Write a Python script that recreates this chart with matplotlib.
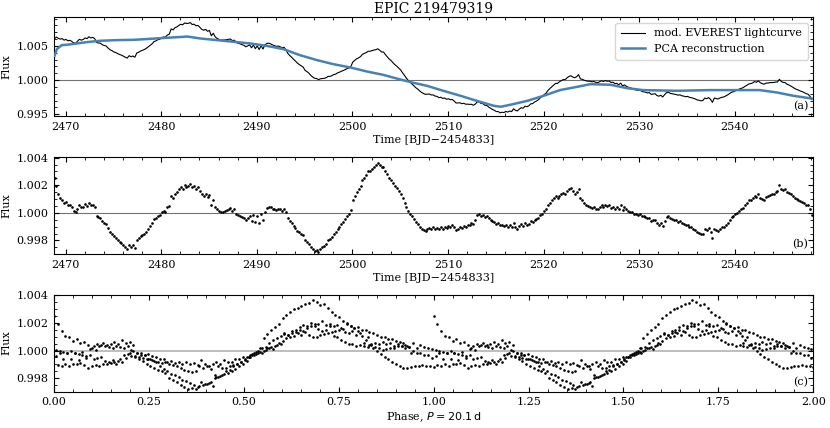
import numpy as np
import matplotlib
matplotlib.use("Agg")
import matplotlib.pyplot as plt
from matplotlib.ticker import AutoMinorLocator, MultipleLocator, FormatStrFormatter

# ---------------- data ----------------
title = "EPIC 219479319"
t_start = 2468.85      # BJD-2454833 of first sample
cadence = 0.2          # days between samples
period = 20.1          # days

# detrended flux (panel b), offset from 1 in units of 1e-5, one row per day
detrended = [
    250, 195, 140, 105, 95,      # 2468.85
    70, 80, 55, 60, 40,          # 2469.85
    15, 5, 30, 55, 40,           # 2470.85
    45, 65, 50, 75, 55,          # 2471.85
    60, 40, -20, -30, -35,       # 2472.85
    -60, -70, -80, -110, -135,   # 2473.85
    -150, -170, -180, -195, -210,
    -220, -235, -250, -265, -230,
    -245, -235, -255, -195, -185,
    -170, -160, -150, -135, -115,
    -95, -75, -45, -35, -20,     # 2478.85
    -15, 5, 15, 10, 40,
    50, 125, 110, 140, 150,
    170, 185, 175, 200, 190,
    195, 210, 185, 195, 175,
    185, 160, 135, 125, 140,     # 2483.85
    115, 130, 55, 95, 45,
    25, 15, 5, 10, 15,
    20, 30, 35, 15, 25,
    -5, -15, -20, -30, -35,
    -55, -40, -20, -60, -15,     # 2488.85
    -65, -20, -70, -10, -55,
    10, 35, 45, 40, 30,
    25, 20, 30, 25, 15,
    30, 5, -40, -60, -75,
    -95, -110, -130, -140, -150, # 2493.85
    -160, -200, -210, -225, -250,
    -265, -275, -270, -280, -260,
    -250, -240, -225, -200, -190,
    -175, -150, -140, -115, -100,
    -80, -65, -45, -25, -10,     # 2498.85
    20, 90, 120, 150, 170,
    195, 235, 255, 275, 300,
    305, 320, 335, 345, 365,
    350, 330, 335, 305, 280,
    255, 240, 215, 195, 180,     # 2503.85
    160, 140, 105, 75, 40,
    15, -5, -25, -45, -65,
    -80, -100, -115, -125, -130,
    -120, -110, -115, -105, -115,
    -110, -120, -105, -115, -100, # 2508.85
    -110, -95, -100, -90, -105,
    -125, -115, -105, -110, -95,
    -100, -90, -85, -75, -80,
    -55, -15, -5, -20, -15,
    -30, -25, -40, -50, -60,     # 2513.85
    -65, -80, -75, -90, -85,
    -95, -85, -100, -90, -105,
    -70, -100, -115, -95, -80,
    -95, -70, -85, -80, -60,
    -65, -50, -45, -35, -15,     # 2518.85
    -5, 15, 25, 55, 75,
    90, 105, 120, 110, 125,
    135, 145, 140, 160, 175,
    180, 155, 140, 150, 175,
    105, 95, 75, 60, 50,         # 2523.85
    45, 35, 40, 30, 25,
    40, 55, 45, 60, 50,
    55, 35, 45, 30, 40,
    25, 55, 20, 40, 25,
    15, 10, 5, -5, -10,          # 2528.85
    -15, -5, -20, -25, -30,
    -40, -35, -60, -55, -50,
    -75, -85, -70, -95, -60,
    -30, -25, -40, -45, -50,
    -55, -65, -60, -75, -80,     # 2533.85
    -90, -85, -100, -105, -115,
    -125, -140, -145, -155, -150,
    -115, -125, -110, -135, -180,
    -115, -125, -130, -115, -105,
    -100, -85, -70, -50, -30,    # 2538.85
    -25, -10, 0, 15, 25,
    35, 55, 70, 90, 95,
    105, 125, 115, 135, 110,
    100, 95, 115, 120, 130,
    135, 140, 150, 155, 200,     # 2543.85
    175, 165, 170, 150, 145,
    135, 125, 110, 100, 95,
    85, 80, 70, 60, 55,
    30, -15,                     # 2547.85
]

# PCA reconstruction (panel a): knot times and offset from 1 in units of 1e-5
pca_time = [2468.85, 2469.1, 2469.6, 2470.1, 2471.2, 2472.2, 2473.6, 2475.4,
            2477.1, 2478.9, 2480.6, 2482.3, 2482.7, 2484.1, 2485.8, 2487.6,
            2489.3, 2491.0, 2492.8, 2494.5, 2496.3, 2498.0, 2499.8, 2501.5,
            2503.2, 2505.0, 2506.4, 2507.8, 2509.5, 2511.3, 2513.0, 2514.8,
            2515.5, 2516.5, 2518.3, 2520.0, 2521.7, 2523.5, 2524.9, 2527.0,
            2528.7, 2530.4, 2533.9, 2537.4, 2540.9, 2542.6, 2544.4, 2546.1,
            2548.05]
pca_offset = [356, 454, 512, 517, 537, 556, 576, 586,
              590, 605, 620, 634, 639, 610, 586, 561,
              537, 503, 454, 366, 293, 234, 185, 127,
              78, 10, -40, -83, -156, -229, -303, -376,
              -390, -361, -303, -229, -146, -98, -59, -68,
              -117, -146, -156, -146, -146, -146, -181, -229,
              -270]

labels_legend = ["mod. EVEREST lightcurve", "PCA reconstruction"]
time_label = "Time [BJD\u22122454833]"
phase_label = r"Phase, $P=20.1\,\mathrm{d}$"

# ---------------- derived ----------------
t = t_start + cadence * np.arange(len(detrended))
flux_b = 1.0 + np.array(detrended) * 1e-5
pca_t = np.array(pca_time)
pca_f = 1.0 + np.array(pca_offset) * 1e-5
pca_at_t = np.interp(t, pca_t, pca_f)
flux_a = flux_b * pca_at_t
phase = ((t - t[0]) / period) % 1.0

# ---------------- plot ----------------
plt.rcParams["font.family"] = ["DejaVu Serif"]
plt.rcParams["font.size"] = 8

fig = plt.figure(figsize=(8.3, 4.28), dpi=100)
L, W = 0.0651, 0.9148
axa = fig.add_axes([L, 0.729, W, 0.2306])
axb = fig.add_axes([L, 0.4065, W, 0.2267])
axc = fig.add_axes([L, 0.0848, W, 0.2271])

blue = "#4682b4"

# panel a
axa.axhline(1.0, color="0.45", lw=0.8, zorder=1)
axa.plot(t, flux_a, color="black", lw=0.8, label=labels_legend[0], zorder=2)
axa.plot(pca_t, pca_f, color=blue, lw=1.8, label=labels_legend[1], zorder=3)
axa.set_xlim(2468.8, 2548.2)
axa.set_ylim(0.99475, 1.0092)
axa.yaxis.set_major_locator(MultipleLocator(0.005))
axa.legend(loc="upper right", fontsize=8, handlelength=2.2, borderpad=0.5)
axa.set_title(title, fontsize=10, pad=3)
axa.set_xlabel(time_label, labelpad=2.5)

# panel b
axb.axhline(1.0, color="0.45", lw=0.8, zorder=1)
axb.plot(t, flux_b, "o", color="black", ms=1.9, mew=0, zorder=2)
axb.set_xlim(2468.8, 2548.2)
axb.set_ylim(0.99702, 1.00405)
axb.yaxis.set_major_locator(MultipleLocator(0.002))
axb.set_xlabel(time_label, labelpad=2.5)

# panel c
axc.axhline(1.0, color="0.7", lw=1.2, zorder=1)
axc.plot(np.concatenate([phase, phase + 1.0]), np.concatenate([flux_b, flux_b]),
         "o", color="black", ms=1.9, mew=0, zorder=2)
axc.set_xlim(0, 2)
axc.set_ylim(0.99702, 1.00405)
axc.yaxis.set_major_locator(MultipleLocator(0.002))
axc.xaxis.set_major_locator(MultipleLocator(0.25))
axc.xaxis.set_major_formatter(FormatStrFormatter("%.2f"))
axc.set_xlabel(phase_label, labelpad=2.5)

for ax, tag in zip([axa, axb, axc], ["(a)", "(b)", "(c)"]):
    if ax is not axc:
        ax.xaxis.set_major_locator(MultipleLocator(10))
        ax.xaxis.set_major_formatter(FormatStrFormatter("%d"))
    ax.yaxis.set_major_formatter(FormatStrFormatter("%.3f"))
    ax.xaxis.set_minor_locator(AutoMinorLocator())
    ax.yaxis.set_minor_locator(AutoMinorLocator())
    ax.tick_params(which="both", direction="in", top=True, right=True, labelsize=8)
    ax.tick_params(which="major", length=3.5, pad=4)
    ax.tick_params(which="minor", length=2)
    ax.set_ylabel("Flux", labelpad=4)
    ax.text(0.993, 0.05, tag, transform=ax.transAxes, ha="right", va="bottom", fontsize=8)

fig.savefig("out.png", dpi=100)
